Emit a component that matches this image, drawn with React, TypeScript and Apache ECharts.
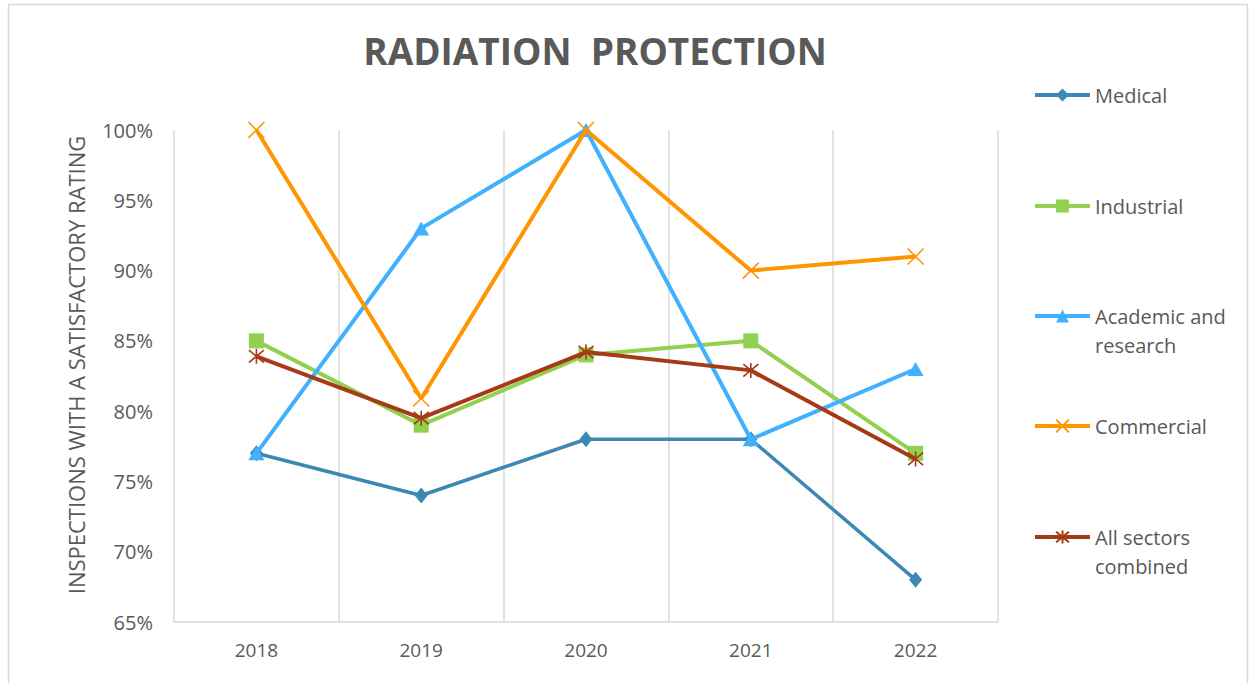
import React, { useEffect, useRef } from "react";
import * as echarts from "echarts";

const years = ["2018", "2019", "2020", "2021", "2022"];
const medical = [77, 74, 78, 78, 68];
const industrial = [85, 79, 84, 85, 77];
const academic = [77, 93, 100, 78, 83];
const commercial = [100, 80.9, 100, 90, 91];
const allSectors = [83.9, 79.5, 84.2, 82.9, 76.6];

const seriesNames = ["Medical", "Industrial", "Academic and research", "Commercial", "All sectors combined"];
const legendLabels = ["Medical", "Industrial", "\nAcademic and\nresearch", "Commercial", "\nAll sectors\ncombined"];
const colors = ["#3C87B4", "#92D050", "#40B0FF", "#FF9500", "#A63A17"];

const FONT = "'Open Sans', 'Noto Sans', sans-serif";
const TEXT = "#595959";
const GRIDC = "#D9D9D9";

const X_PATH = "path://M0,0L10,10M10,0L0,10";
const STAR_PATH = "path://M0,0L10,10M10,0L0,10M5,-1L5,11";

export default function App() {
  const ref = useRef<HTMLDivElement>(null);
  useEffect(() => {
    document.body.style.margin = "0";
    if (!ref.current) return;
    const chart = echarts.init(ref.current, undefined, { renderer: "svg" });
    const datas = [medical, industrial, academic, commercial, allSectors];
    const symbols: any[] = ["diamond", "rect", "triangle", X_PATH, STAR_PATH];
    const sizes: any[] = [[13, 16], 15, [16, 14], 16, 15];
    const series = seriesNames.map((name, i) => {
      const lineLike = i >= 3;
      return {
        name,
        type: "line",
        data: datas[i],
        symbol: symbols[i],
        symbolSize: sizes[i],
        showAllSymbol: true,
        lineStyle: { color: colors[i], width: i === 0 ? 3.5 : 4 },
        itemStyle: lineLike
          ? { color: colors[i], borderColor: colors[i], borderWidth: 1.6 }
          : { color: colors[i], borderWidth: 0 },
        emphasis: { disabled: true },
        z: 2 + i,
      };
    });
    const legendCenters = [95, 206, 316, 426, 537];
    const legends = seriesNames.map((name, i) => {
      const two = legendLabels[i].includes("\n");
      return {
        data: [name],
        orient: "vertical",
        left: 1033,
        top: two ? legendCenters[i] - 43.5 : legendCenters[i] - 14.5,
        itemWidth: 55,
        itemHeight: 16,
        padding: 0,
        selectedMode: false,
        formatter: () => legendLabels[i],
        lineStyle: { width: 4 },
        textStyle: {
          color: TEXT,
          fontFamily: FONT,
          fontSize: 20,
          lineHeight: 29,
        },
      };
    });
    chart.setOption({
      animation: false,
      backgroundColor: "#ffffff",
      title: {
        text: "RADIATION  PROTECTION",
        left: 590,
        top: 27,
        textAlign: "center",
        textStyle: { color: TEXT, fontFamily: FONT, fontSize: 37, fontWeight: "bold" },
      },
      graphic: [
        {
          type: "rect",
          shape: { x: 8.5, y: 4.5, width: 1239, height: 720 },
          style: { fill: "none", stroke: GRIDC, lineWidth: 1.5 },
          silent: true,
          z: -10,
        },
      ],
      legend: legends,
      grid: { left: 174, right: 256, top: 130, bottom: 61, containLabel: false },
      xAxis: {
        type: "category",
        data: years,
        boundaryGap: true,
        axisLine: { show: true, lineStyle: { color: GRIDC, width: 1.5 } },
        axisTick: { show: false },
        axisLabel: { color: TEXT, fontFamily: FONT, fontSize: 19, margin: 18 },
        splitLine: { show: true, lineStyle: { color: GRIDC, width: 1.5 } },
      },
      yAxis: {
        type: "value",
        min: 65,
        max: 100,
        interval: 5,
        name: "INSPECTIONS WITH A SATISFACTORY RATING",
        nameLocation: "middle",
        nameGap: 87,
        nameTextStyle: { color: TEXT, fontFamily: FONT, fontSize: 22, padding: [0, 0, 0, 22] },
        axisLine: { show: false },
        axisTick: { show: false },
        splitLine: { show: false },
        axisLabel: {
          color: TEXT,
          fontFamily: FONT,
          fontSize: 20,
          margin: 21,
          formatter: (v: number) => `${v}%`,
        },
      },
      series,
    });
    return () => chart.dispose();
  }, []);
  return <div ref={ref} style={{ width: 1254, height: 683 }} />;
}
